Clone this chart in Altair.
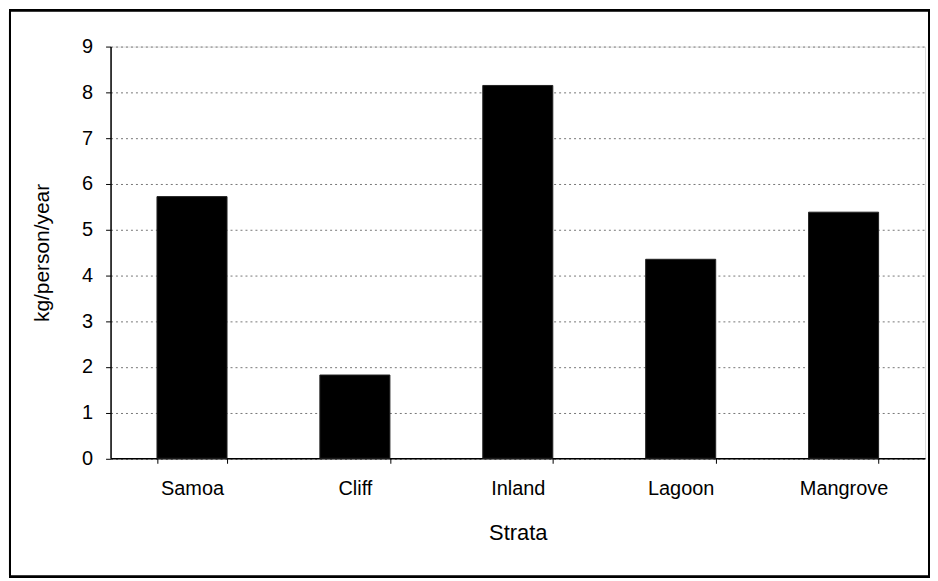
import altair as alt
import pandas as pd

strata = ["Samoa", "Cliff", "Inland", "Lagoon", "Mangrove"]
values = [5.72, 1.82, 8.15, 4.35, 5.38]
y_ticks = [0, 1, 2, 3, 4, 5, 6, 7, 8, 9]

df = pd.DataFrame({"Strata": strata, "value": values})
FONT = "Liberation Sans"

bars = alt.Chart(df).mark_bar(color="black", stroke="#222", strokeWidth=1).encode(
    x=alt.X(
        "Strata:N",
        sort=strata,
        scale=alt.Scale(paddingInner=0.57, paddingOuter=0.285),
        axis=alt.Axis(
            title="Strata",
            labelAngle=0,
            tickBand="extent",
            ticks=True,
            tickSize=5,
            tickColor="black",
            domainColor="black",
            domainWidth=1.5,
            labelFont=FONT,
            labelFontSize=20,
            labelColor="black",
            labelPadding=15,
            titleFont=FONT,
            titleFontSize=22,
            titleFontWeight="normal",
            titleColor="black",
            titlePadding=25,
            grid=False,
        ),
    ),
    y=alt.Y(
        "value:Q",
        scale=alt.Scale(domain=[0, 9], nice=False),
        axis=alt.Axis(
            title="kg/person/year",
            values=y_ticks,
            tickSize=5,
            tickColor="black",
            domainColor="black",
            domainWidth=1.5,
            labelFont=FONT,
            labelFontSize=20,
            labelColor="black",
            labelPadding=13,
            titleFont=FONT,
            titleFontSize=21,
            titleFontWeight="normal",
            titleColor="black",
            titlePadding=29,
            grid=True,
            gridColor="#777",
            gridDash=[2, 3],
            gridWidth=1,
        ),
    ),
)

border = alt.Chart(df).mark_rect(
    fill=None, stroke="black", strokeWidth=2, clip=False
).encode(
    x=alt.value(-101),
    x2=alt.value(822),
    y=alt.value(-36.5),
    y2=alt.value(532.5),
)

chart = alt.layer(bars, border).properties(
    width=818,
    height=413.5,
    autosize=alt.AutoSizeParams(type="none"),
    padding={"left": 103, "top": 37.5, "right": 5, "bottom": 121},
).configure_view(
    stroke="#808080", strokeWidth=1.5
).configure(background="white")

chart.save("out.html", embed_options={"renderer": "svg", "actions": False})
